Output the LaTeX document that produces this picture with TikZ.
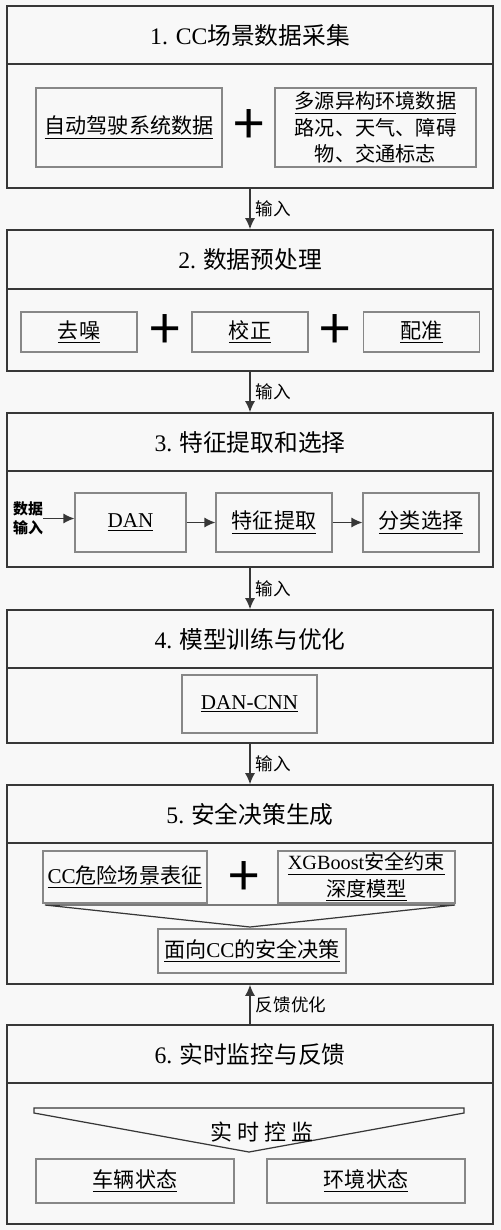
\documentclass[tikz,border=0pt]{standalone}
\usepackage{fontspec}
\setmainfont{Noto Sans CJK SC}
\newfontfamily\lat{Liberation Serif}
\usepackage{tikz}
\usetikzlibrary{arrows.meta}
\definecolor{ln}{RGB}{55,55,55}
\definecolor{lnlt}{RGB}{135,135,135}
\definecolor{bg}{RGB}{248,248,248}
\tikzset{
  sec/.style ={rectangle,draw=ln,line width=0.9pt,minimum width=9.72cm,minimum height=1.16cm,inner sep=0pt,font=\fontsize{13.5}{16}\selectfont},
  body/.style={rectangle,draw=ln,line width=0.9pt,minimum width=9.72cm,inner sep=0pt},
  item/.style={rectangle,draw=lnlt,line width=0.6pt,inner sep=0pt,align=center,font=\fontsize{12}{14.5}\selectfont},
  twoline/.style={font=\fontsize{11.5}{15}\selectfont},
  plus/.style={inner sep=0pt,font=\fontsize{32}{32}\selectfont},
  lab/.style ={right,inner sep=3pt,font=\fontsize{10}{12}\selectfont},
  shp/.style ={draw=ln,line width=0.7pt},
  ar/.style={-{Latex[length=2.2mm,width=2mm]},line width=0.8pt,draw=ln},
}

\begin{document}
\begin{tikzpicture}
  \fill[bg] (0,0) rectangle (10.02,-24.60);
  \useasboundingbox (0,0) rectangle (10.02,-24.60);
  % 1
  \node[sec] (t1) at (5.0,-0.70){{\lat 1. CC}场景数据采集};
  \node[body,minimum height=2.48cm] (b1) at (5.0,-2.52){};
  \node[item,minimum width=3.72cm,minimum height=1.58cm] (sys) at (2.58,-2.55){\underline{自动驾驶系统数据}};
  \node[plus] (p1) at (4.98,-2.54){+};
  \node[item,twoline,minimum width=4.02cm,minimum height=1.58cm] (env) at (7.51,-2.55){\underline{多源异构环境数据}\\路况、天气、障碍\\物、交通标志};
  % 2
  \node[sec,minimum height=1.18cm] (t2) at (5.0,-5.19){{\lat 2.} 数据预处理};
  \node[body,minimum height=1.64cm] (b2) at (5.0,-6.60){};
  \node[item,minimum width=2.32cm,minimum height=0.8cm] (den) at (1.58,-6.64){\underline{去噪}};
  \node[plus] (p2) at (3.30,-6.64){+};
  \node[item,minimum width=2.32cm,minimum height=0.8cm] (cal) at (5.0,-6.64){\underline{校正}};
  \node[plus] (p3) at (6.70,-6.64){+};
  \node[item,minimum width=2.32cm,minimum height=0.8cm] (reg) at (8.43,-6.64){\underline{配准}};
  % 3
  \node[sec] (t3) at (5.0,-8.84){{\lat 3.} 特征提取和选择};
  \node[body,minimum height=1.92cm] (b3) at (5.0,-10.38){};
  \node[align=center,inner sep=0pt,font=\fontsize{8.5}{10.8}\selectfont\bfseries] (din) at (0.56,-10.37){数据\\输入};
  \node[item,minimum width=2.22cm,minimum height=1.18cm] (dan) at (2.61,-10.45){\underline{\lat DAN}};
  \node[item,minimum width=2.32cm,minimum height=1.18cm] (fx) at (5.48,-10.45){\underline{特征提取}};
  \node[item,minimum width=2.32cm,minimum height=1.18cm] (cls) at (8.42,-10.45){\underline{分类选择}};
  \draw[ar] (din.east) -- (dan.west |- din.east);
  \draw[ar] (dan) -- (fx);
  \draw[ar] (fx) -- (cls);
  % 4
  \node[sec] (t4) at (5.0,-12.78){{\lat 4.} 模型训练与优化};
  \node[body,minimum height=1.5cm] (b4) at (5.0,-14.11){};
  \node[item,minimum width=2.7cm,minimum height=1.16cm] (cnn) at (4.99,-14.08){\underline{\lat DAN-CNN}};
  % 5
  \node[sec] (t5) at (5.0,-16.28){{\lat 5.} 安全决策生成};
  \node[body,minimum height=2.82cm] (b5) at (5.0,-18.27){};
  \node[item,minimum width=3.28cm,minimum height=1.04cm] (risk) at (2.50,-17.54){\underline{{\lat CC}危险场景表征}};
  \node[plus] (p4) at (4.88,-17.58){+};
  \node[item,twoline,minimum width=3.54cm,minimum height=1.04cm] (xgb) at (7.33,-17.54){\underline{{\lat XGBoost}安全约束}\\\underline{深度模型}};
  \draw[shp] (0.90,-18.10) -- (9.10,-18.10) -- (5.0,-18.54) -- cycle;
  \node[item,minimum width=3.76cm,minimum height=0.88cm] (dec) at (5.04,-19.02){\underline{面向{\lat CC}的安全决策}};
  % 6
  \node[sec] (t6) at (5.0,-21.08){{\lat 6.} 实时监控与反馈};
  \node[body,minimum height=2.82cm] (b6) at (5.0,-23.07){};
  \draw[shp] (0.68,-22.26) -- (0.68,-22.16) -- (9.28,-22.16) -- (9.28,-22.26) -- (4.98,-23.04) -- cycle;
  \node[inner sep=0pt,font=\fontsize{12.5}{14}\selectfont] (mon) at (5.24,-22.64){实\hspace{3pt}时\hspace{3pt}控\hspace{3pt}监};
  \node[item,minimum width=3.96cm,minimum height=0.88cm] (veh) at (2.70,-23.62){\underline{车辆状态}};
  \node[item,minimum width=3.96cm,minimum height=0.88cm] (envs) at (7.32,-23.62){\underline{环境状态}};
  % links
  \draw[ar] (b1.south) -- node[lab]{输入} (t2.north);
  \draw[ar] (b2.south) -- node[lab]{输入} (t3.north);
  \draw[ar] (b3.south) -- node[lab]{输入} (t4.north);
  \draw[ar] (b4.south) -- node[lab]{输入} (t5.north);
  \draw[ar] (t6.north) -- node[lab]{反馈优化} (b5.south);
\end{tikzpicture}
\end{document}
